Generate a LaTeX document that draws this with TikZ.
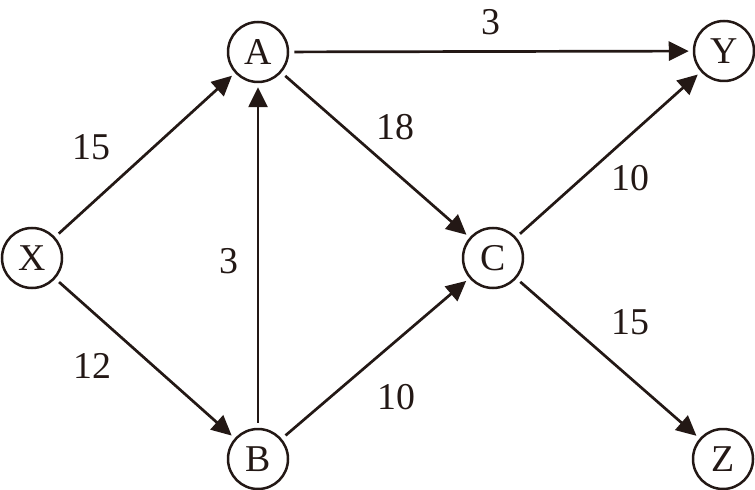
\documentclass[tikz,border=0pt]{standalone}
\usepackage{fontspec}
\setmainfont{Liberation Serif}
\usetikzlibrary{arrows.meta}
\definecolor{ink}{RGB}{35,24,21}
\tikzset{
  vtx/.style={circle,draw=ink,text=ink,line width=2.5bp,minimum size=60bp,inner sep=0pt,font=\fontsize{38}{40}\selectfont},
  lbl/.style={inner sep=0pt,text=ink,font=\fontsize{38}{40}\selectfont},
  edge/.style={draw=ink,line width=2.7bp,-{Triangle[length=20bp,width=19bp]},shorten <=5bp,shorten >=4bp},
}
\begin{document}
\begin{tikzpicture}[x=1bp,y=-1bp]
\useasboundingbox (0,0) rectangle (755,490);
\node[vtx] (X) at (32,258) {X};
\node[vtx] (A) at (258,52) {A};
\node[vtx] (Y) at (724,51) {Y};
\node[vtx] (C) at (493,258) {C};
\node[vtx] (B) at (258,459) {B};
\node[vtx] (Z) at (723,459) {Z};
\draw[edge] (X) -- (A);
\draw[edge] (X) -- (B);
\draw[edge] (A) -- (Y);
\draw[edge] (A) -- (C);
\draw[edge] (B) -- (A);
\draw[edge] (B) -- (C);
\draw[edge] (C) -- (Y);
\draw[edge] (C) -- (Z);
\node[lbl] (l1) at (91,147) {15};
\node[lbl] (l2) at (92,366) {12};
\node[lbl] (l3) at (491,22) {3};
\node[lbl] (l4) at (395,127) {18};
\node[lbl] (l5) at (229,261) {3};
\node[lbl] (l6) at (396,397) {10};
\node[lbl] (l7) at (630,178) {10};
\node[lbl] (l8) at (630,322) {15};
\end{tikzpicture}
\end{document}
